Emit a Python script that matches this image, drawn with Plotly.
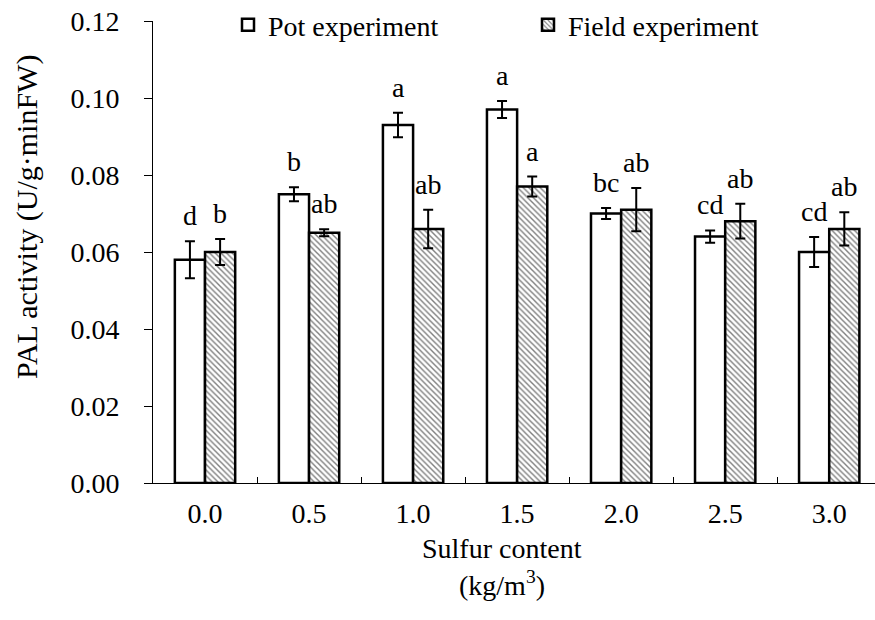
import plotly.graph_objects as go

categories = ["0.0", "0.5", "1.0", "1.5", "2.0", "2.5", "3.0"]
pot_values = [0.058, 0.075, 0.093, 0.097, 0.070, 0.064, 0.060]
pot_errors = [0.0048, 0.0018, 0.0032, 0.0022, 0.0014, 0.0016, 0.0039]
pot_letters = ["d", "b", "a", "a", "bc", "cd", "cd"]
field_values = [0.060, 0.065, 0.066, 0.077, 0.071, 0.068, 0.066]
field_errors = [0.0034, 0.0009, 0.0050, 0.0026, 0.0056, 0.0045, 0.0043]
field_letters = ["b", "ab", "ab", "a", "ab", "ab", "ab"]
y_ticks = [0.00, 0.02, 0.04, 0.06, 0.08, 0.10, 0.12]

FONT = "Liberation Serif"
FS = 28

fig = go.Figure()
fig.add_trace(go.Bar(
    name="Pot experiment", x=categories, y=pot_values,
    marker=dict(color="white", line=dict(color="black", width=2.5)),
    error_y=dict(type="data", array=pot_errors, color="black", thickness=2, width=5),
))
fig.add_trace(go.Bar(
    name="Field experiment", x=categories, y=field_values,
    marker=dict(color="white", line=dict(color="black", width=2.5),
                pattern=dict(shape="\\", fgcolor="black", bgcolor="white", size=4, solidity=0.35)),
    error_y=dict(type="data", array=field_errors, color="black", thickness=2, width=5),
))

annotations = []
for i, (v, e, t) in enumerate(zip(pot_values, pot_errors, pot_letters)):
    annotations.append(dict(x=i, y=v + e, text=t, showarrow=False, xref="x", yref="y",
                            yanchor="bottom", xshift=-15, yshift=8,
                            font=dict(family=FONT, size=FS, color="black")))
for i, (v, e, t) in enumerate(zip(field_values, field_errors, field_letters)):
    annotations.append(dict(x=i, y=v + e, text=t, showarrow=False, xref="x", yref="y",
                            yanchor="bottom", xshift=15, yshift=8,
                            font=dict(family=FONT, size=FS, color="black")))
annotations.append(dict(x=502, y=548, xref="paper", yref="paper", text="Sulfur content",
                        showarrow=False, font=dict(family=FONT, size=FS, color="black")))
annotations.append(dict(x=502, y=583, xref="paper", yref="paper", text="(kg/m<sup>3</sup>)",
                        showarrow=False, font=dict(family=FONT, size=FS, color="black")))
annotations.append(dict(x=27, y=217, xref="paper", yref="paper", text="PAL activity (U/g·minFW)",
                        textangle=-90, showarrow=False, font=dict(family=FONT, size=30, color="black")))

W, H = 875, 620
L, R, T, B = 153, 0, 21, 137
pw, ph = W - L - R, H - T - B
for a in annotations:
    if a["xref"] == "paper":
        a["x"] = (a["x"] - L) / pw
        a["y"] = 1 - (a["y"] - T) / ph
        a["xanchor"] = "center"
        a["yanchor"] = "middle"

fig.update_layout(
    width=W, height=H,
    margin=dict(l=L, r=R, t=T, b=B),
    paper_bgcolor="white", plot_bgcolor="white",
    barmode="group", bargap=0.42, bargroupgap=0,
    font=dict(family=FONT, size=FS, color="black"),
    showlegend=True,
    legend=dict(orientation="h", x=(228 - L) / pw, y=1 - (25 - T) / ph, xanchor="left", yanchor="middle",
                bgcolor="rgba(0,0,0,0)", itemwidth=30, entrywidth=255,
                font=dict(family=FONT, size=FS, color="black")),
    annotations=annotations,
    xaxis=dict(type="category", range=[-0.5, 6.44], showline=True, linecolor="black", linewidth=1,
               ticks="inside", ticklen=6, tickcolor="black", tickson="boundaries",
               showgrid=False, zeroline=False, ticklabelstandoff=5,
               tickfont=dict(family=FONT, size=FS, color="black")),
    yaxis=dict(range=[0, 0.12], tickvals=y_ticks, tickformat=".2f", showline=True, linecolor="black",
               linewidth=1, ticks="outside", ticklen=8, tickcolor="black", showgrid=False,
               zeroline=False, ticklabelstandoff=19,
               tickfont=dict(family=FONT, size=FS, color="black")),
)

fig.write_html("out.html")
